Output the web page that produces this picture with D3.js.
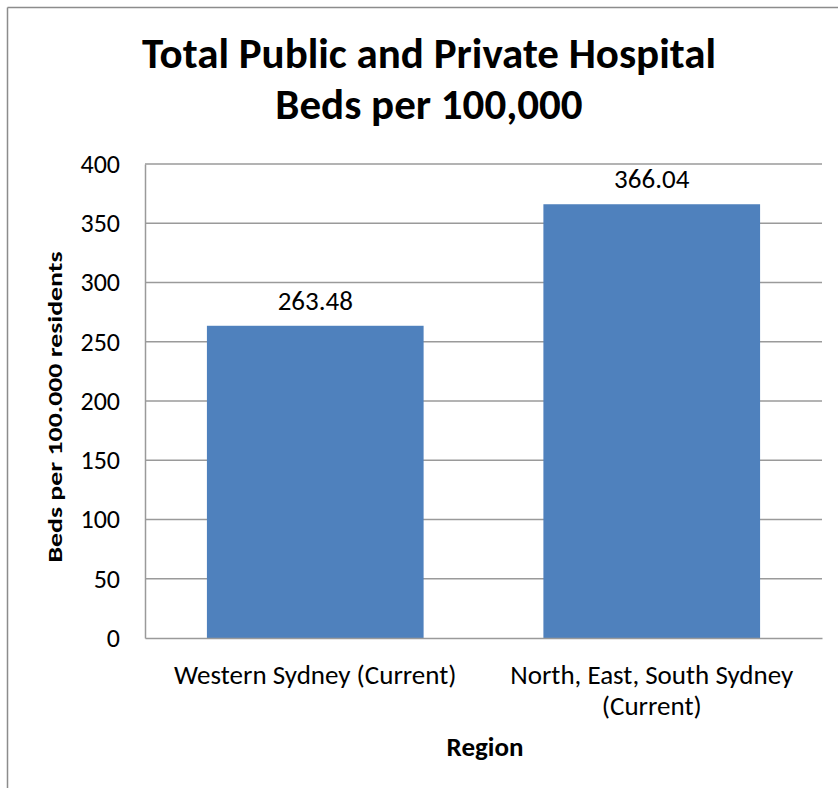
<!DOCTYPE html>
<html>
<head>
<meta charset="utf-8">
<script src="https://cdn.jsdelivr.net/npm/d3@7"></script>
<style>
  html, body { margin: 0; padding: 0; background: #fff; }
  svg { display: block; }
  text { font-family: Carlito, Lato, "Open Sans", sans-serif; fill: #000; }
</style>
</head>
<body>
<svg id="chart" width="838" height="788"></svg>
<script>
// Hospital bed supply by region
const categories = [["Western Sydney (Current)"], ["North, East, South Sydney", "(Current)"]];
const bedsPer100k = [263.48, 366.04];
const yTicks = [0, 50, 100, 150, 200, 250, 300, 350, 400];
const titleLines = ["Total Public and Private Hospital", "Beds per 100,000"];
const yAxisTitle = "Beds per 100.000 residents";
const xAxisTitle = "Region";

const svg = d3.select("#chart");
const W = 838, H = 788;
const plot = { left: 145, right: 822, top: 164, bottom: 638 };
const barColor = "#4F81BD";
const gridColor = "#9a9a9a";

// Chart frame (only the top and left edges fall inside the view)
svg.append("line").attr("x1", 7.5).attr("x2", W).attr("y1", 7.5).attr("y2", 7.5)
  .attr("stroke", "#8c8c8c").attr("stroke-width", 1.5);
svg.append("line").attr("x1", 7.5).attr("x2", 7.5).attr("y1", 7.5).attr("y2", H)
  .attr("stroke", "#8c8c8c").attr("stroke-width", 1.5);

// Title
const title = svg.append("text").attr("text-anchor", "middle")
  .style("font-weight", "bold").style("font-size", "43px");
titleLines.forEach((t, i) => {
  title.append("tspan").attr("x", 429).attr("y", 68 + i * 51).text(t);
});

const keys = categories.map(c => c.join(" "));
const x = d3.scaleBand().domain(keys).range([plot.left, plot.right])
  .paddingInner(0.356).paddingOuter(0.184);
const y = d3.scaleLinear().domain([0, 400]).range([plot.bottom, plot.top]);

// Horizontal gridlines
svg.append("g").selectAll("line").data(yTicks.filter(d => d > 0)).join("line")
  .attr("x1", plot.left).attr("x2", plot.right)
  .attr("y1", d => y(d)).attr("y2", d => y(d))
  .attr("stroke", gridColor).attr("stroke-width", 1.5);

// Bars
svg.append("g").selectAll("rect").data(bedsPer100k).join("rect")
  .attr("x", (d, i) => x(keys[i]))
  .attr("width", x.bandwidth())
  .attr("y", d => y(d))
  .attr("height", d => y(0) - y(d))
  .attr("fill", barColor);

// Value labels
svg.append("g").selectAll("text").data(bedsPer100k).join("text")
  .attr("x", (d, i) => x(keys[i]) + x.bandwidth() / 2)
  .attr("y", d => y(d) - 16)
  .attr("text-anchor", "middle")
  .style("font-size", "27px")
  .text(d => d.toFixed(2));

// Y axis
const yAxis = svg.append("g").attr("transform", `translate(${plot.left},0)`)
  .call(d3.axisLeft(y).tickValues(yTicks).tickSize(0).tickPadding(25));
yAxis.select(".domain").attr("stroke", gridColor).attr("stroke-width", 1.5);
yAxis.selectAll("text").style("font-size", "26px").attr("font-family", null);

// X axis
const xAxis = svg.append("g").attr("transform", `translate(0,${plot.bottom})`)
  .call(d3.axisBottom(x).tickSize(0).tickFormat(() => ""));
xAxis.select(".domain").attr("stroke", gridColor).attr("stroke-width", 1.5);
xAxis.selectAll(".tick text").each(function(d, i) {
  const t = d3.select(this).attr("y", null).attr("dy", null).style("font-size", "27px");
  categories[i].forEach((line, j) => {
    t.append("tspan").attr("x", 0).attr("y", 46 + j * 31).text(line);
  });
});

// Axis titles (the vertical one is set in a tall, condensed style)
svg.append("text").attr("transform", `translate(62,${(plot.top + plot.bottom) / 2 + 6}) rotate(-90)`)
  .attr("text-anchor", "middle").style("font-weight", "bold").style("font-size", "21px")
  .attr("textLength", 311).attr("lengthAdjust", "spacingAndGlyphs")
  .text(yAxisTitle);
svg.append("text").attr("x", 485).attr("y", 756).attr("text-anchor", "middle")
  .style("font-weight", "bold").style("font-size", "27px").text(xAxisTitle);
</script>
</body>
</html>
